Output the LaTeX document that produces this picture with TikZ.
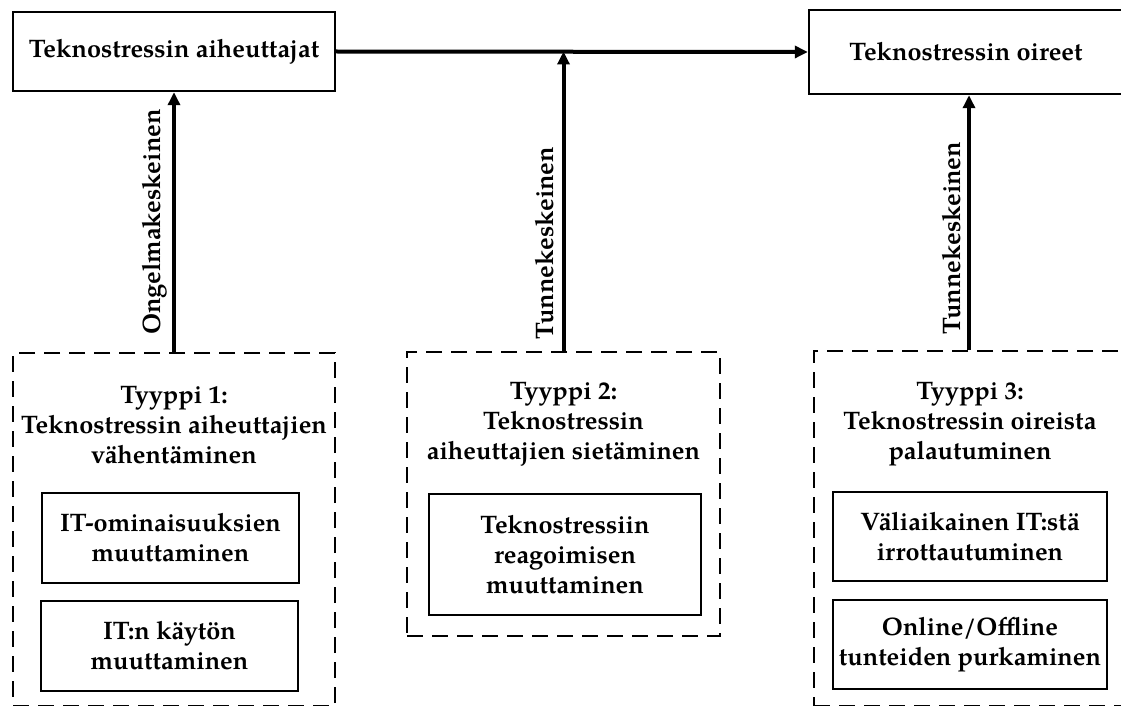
\documentclass[tikz,border=0pt]{standalone}
\usepackage{fontspec}
\setmainfont{texgyrepagella}[Extension=.otf, UprightFont=*-regular, BoldFont=*-bold, ItalicFont=*-italic, BoldItalicFont=*-bolditalic]
\usetikzlibrary{arrows.meta}

\tikzset{
  txt/.style={font=\bfseries\fontsize{25.3}{30}\selectfont, align=center},
  solidbox/.style={draw, line width=2.4pt, txt, inner sep=0pt},
  dashbox/.style={draw, line width=2.4pt, dash pattern=on 16pt off 9pt, inner sep=0pt},
  flow/.style={line width=4pt, -{Triangle[length=13pt,width=12pt]}},
  vlabel/.style={txt, rotate=90},
}

\begin{document}
\begin{tikzpicture}[x=1pt, y=-1pt]
  \clip (0,0) rectangle (1121,706);
  \fill[white] (0,0) rectangle (1121,706);

  % top row: causes and symptoms
  \node[solidbox, minimum width=322pt, minimum height=79pt] (causes) at (174,51.5) {Teknostressin aiheuttajat};
  \node[solidbox, minimum width=314pt, minimum height=84pt] (symptoms) at (966,52) {Teknostressin oireet};

  % coping types (dashed groups)
  \node[dashbox, minimum width=322pt, minimum height=353pt] (type1) at (174,529.5) {};
  \node[dashbox, minimum width=313pt, minimum height=284pt] (type2) at (563.5,494) {};
  \node[dashbox, minimum width=312pt, minimum height=355pt] (type3) at (970,528.5) {};

  % group titles
  \node[txt] (title1) at (174,425) {Tyyppi 1:\\Teknostressin aiheuttajien\\vähentäminen};
  \node[txt] (title2) at (563.5,424.5) {Tyyppi 2:\\Teknostressin\\aiheuttajien sietäminen};
  \node[txt] (title3) at (970,424) {Tyyppi 3:\\Teknostressin oireista\\palautuminen};

  % coping strategies
  \node[solidbox, minimum width=257pt, minimum height=90pt] (s1a) at (170.5,538) {IT-ominaisuuksien\\muuttaminen};
  \node[solidbox, minimum width=257pt, minimum height=90pt] (s1b) at (169.5,646) {IT:n käytön\\muuttaminen};
  \node[solidbox, minimum width=272pt, minimum height=121pt] (s2) at (565,554.5) {Teknostressiin\\reagoimisen\\muuttaminen};
  \node[solidbox, minimum width=274pt, minimum height=89pt] (s3a) at (970,536.5) {Väliaikainen IT:stä\\irrottautuminen};
  \node[solidbox, minimum width=274pt, minimum height=89pt] (s3b) at (970,644.5) {Online/Offline\\tunteiden purkaminen};

  % connectors
  \coordinate (join) at (type2.north |- causes.east);
  \draw[flow] (causes.east) -- (symptoms.west);
  \draw[flow] (type1.north) -- (causes.south);
  \draw[flow] (type2.north) -- (join);
  \draw[flow] ([xshift=-1pt]type3.north) -- ([xshift=-1pt]type3.north |- symptoms.south);

  % connector labels
  \node[vlabel] (lab1) at (155,222) {Ongelmakeskeinen};
  \node[vlabel] (lab2) at (545,243) {Tunnekeskeinen};
  \node[vlabel] (lab3) at (952,238) {Tunnekeskeinen};
\end{tikzpicture}
\end{document}
